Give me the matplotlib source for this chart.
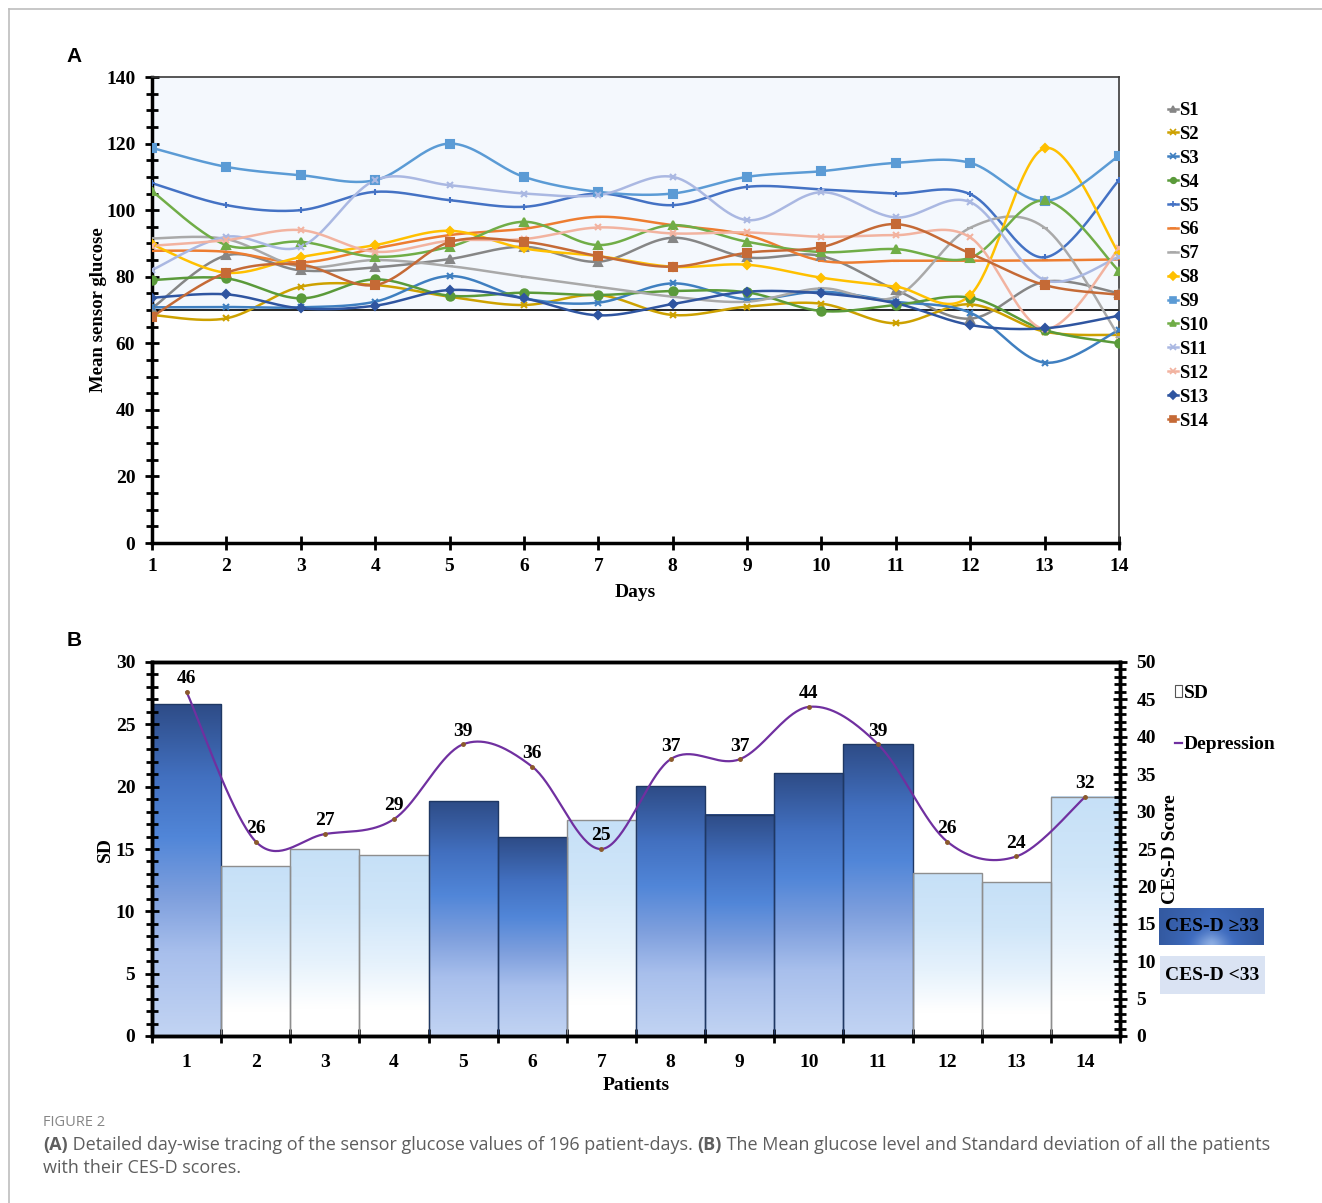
import matplotlib.pyplot as plt
import numpy as np
from matplotlib.colors import LinearSegmentedColormap
from matplotlib.lines import Line2D
from matplotlib.patches import Rectangle

# ---- data: panel A, mean sensor glucose per day ----
days = np.arange(1, 15)
S1 = [70.5, 86.4, 81.9, 82.8, 85.3, 89.0, 84.5, 91.7, 85.8, 86.2, 76.0, 67.4, 78.5, 75.0]
S2 = [68.5, 67.5, 77.0, 77.5, 74.0, 71.5, 74.5, 68.5, 71.0, 71.9, 66.0, 71.7, 63.5, 62.5]
S3 = [70.8, 70.9, 70.8, 72.5, 80.2, 73.5, 72.2, 78.0, 73.2, 75.5, 72.5, 69.2, 54.2, 64.0]
S4 = [79.0, 79.5, 73.5, 79.2, 74.3, 75.2, 74.5, 75.7, 75.3, 69.7, 71.5, 73.7, 64.0, 60.0]
S5 = [108.1, 101.5, 100.0, 105.5, 103.0, 101.0, 105.0, 101.5, 107.0, 106.2, 105.0, 104.8, 85.8, 109.0]
S6 = [87.8, 87.5, 84.3, 88.5, 92.5, 94.4, 98.0, 95.5, 92.5, 84.8, 84.8, 84.8, 84.9, 85.2]
S7 = [91.5, 91.3, 83.0, 85.0, 83.2, 80.0, 77.0, 74.0, 72.5, 76.5, 74.0, 94.7, 94.7, 62.0]
S8 = [89.7, 81.2, 85.9, 89.5, 93.8, 88.5, 86.2, 83.0, 83.6, 79.7, 77.0, 74.5, 118.6, 87.0]
S9 = [118.7, 113.0, 110.5, 109.0, 120.0, 110.0, 105.5, 105.0, 110.0, 111.7, 114.2, 114.2, 102.7, 116.3]
S10 = [105.7, 89.5, 90.5, 86.0, 89.0, 96.5, 89.5, 95.5, 90.5, 87.4, 88.3, 85.7, 102.9, 81.7]
S11 = [82.0, 92.0, 89.0, 109.0, 107.5, 105.0, 104.5, 110.0, 97.0, 105.4, 97.8, 102.4, 79.0, 86.0]
S12 = [89.3, 91.0, 94.0, 87.5, 90.8, 91.3, 94.8, 93.0, 93.3, 92.0, 92.5, 91.8, 64.3, 88.5]
S13 = [73.7, 74.7, 70.5, 71.3, 76.0, 73.5, 68.4, 71.8, 75.5, 75.0, 72.0, 65.5, 64.5, 68.3]
S14 = [68.0, 81.2, 83.6, 77.5, 90.4, 90.5, 86.2, 83.0, 87.2, 88.9, 95.8, 87.0, 77.5, 74.6]
series = [S1, S2, S3, S4, S5, S6, S7, S8, S9, S10, S11, S12, S13, S14]
names = ['S%d' % i for i in range(1, 15)]

# ---- data: panel B ----
patients = np.arange(1, 15)
sd = [26.6, 13.6, 15.0, 14.5, 18.85, 15.96, 17.3, 20.05, 17.75, 21.07, 23.4, 13.05, 12.35, 19.2]
depression = [46, 26, 27, 29, 39, 36, 25, 37, 37, 44, 39, 26, 24, 32]

colors = ['#868686', '#CDA100', '#3F7FC0', '#5A9A3A', '#4472C4', '#ED7D31', '#A9A9A9',
          '#FFC000', '#5B9BD5', '#70AD47', '#AAB8E2', '#F2B3A0', '#2F55A0', '#C56A36']
markers = ['^', 'x', 'x', 'o', '+', '_', '_', 'D', 's', '^', 'x', 'x', 'D', 's']

serif = ['Liberation Serif', 'DejaVu Serif']
plt.rcParams['font.family'] = serif
plt.rcParams['font.weight'] = 'bold'
plt.rcParams['axes.labelweight'] = 'bold'


def smooth(x, y, n=40):
    # Excel-style smoothed line (Bezier through the points)
    pts = np.column_stack([x, y]).astype(float)
    P = np.vstack([pts[0], pts, pts[-1]])
    out = []
    t = np.linspace(0, 1, n)[:, None]
    for i in range(len(pts) - 1):
        p0, p1, p2, p3 = P[i], P[i + 1], P[i + 2], P[i + 3]
        c1 = p1 + (p2 - p0) / 6
        c2 = p2 - (p3 - p1) / 6
        seg = (1 - t) ** 3 * p1 + 3 * (1 - t) ** 2 * t * c1 + 3 * (1 - t) * t ** 2 * c2 + t ** 3 * p2
        out.append(seg if i == 0 else seg[1:])
    out = np.vstack(out)
    return out[:, 0], out[:, 1]


fig = plt.figure(figsize=(13.22, 12.03), dpi=100)

# ---------------- panel A ----------------
ax = fig.add_axes([152 / 1322, 1 - 543 / 1203, 967 / 1322, 466 / 1203])
ax.axhspan(70, 140, color='#F4F8FD', zorder=0)
ax.axhline(70, color='black', lw=1.2, zorder=1)

handles = []
for vals, name, c, m in zip(series, names, colors, markers):
    xs, ys = smooth(days, vals)
    ax.plot(xs, ys, color=c, lw=1.8, zorder=2)
    ms = 6 if m in ('s', '^', 'o') else 5
    if m == 'D':
        ms = 4.5
    ax.plot(days, vals, ls='none', marker=m, color=c, ms=ms, mew=1.5, zorder=3)
    handles.append(Line2D([], [], color=c, lw=1.8, marker=m, ms=4, mew=1.2))

ax.set_xlim(1, 14)
ax.set_ylim(0, 140)
ax.set_xticks(days)
ax.set_yticks(np.arange(0, 141, 20))
ax.set_yticks(np.arange(0, 141, 5), minor=True)
ax.tick_params(axis='both', which='both', direction='inout', width=2, labelsize=14, colors='black')
ax.tick_params(axis='y', which='major', length=10, pad=7)
ax.tick_params(axis='y', which='minor', length=9)
ax.tick_params(axis='x', which='major', length=10, pad=6)
for s in ('left', 'bottom'):
    ax.spines[s].set_linewidth(2.5)
for s in ('top', 'right'):
    ax.spines[s].set_linewidth(1.2)
    ax.spines[s].set_color('#3a3a3a')
ax.set_xlabel('Days', fontsize=14, labelpad=6)
ax.set_ylabel('Mean sensor glucose', fontsize=13.5, labelpad=-1)

ax.legend(handles, names, loc='upper left', bbox_to_anchor=(1168 / 1322, 1 - 102 / 1203),
          bbox_transform=fig.transFigure, frameon=False, fontsize=13.5,
          handlelength=0.55, handletextpad=0.05, labelspacing=0.36, borderpad=0, borderaxespad=0)

fig.text(74 / 1322, 1 - 57 / 1203, 'A', family='Liberation Sans', weight='bold', fontsize=15,
         ha='center', va='center')

# ---------------- panel B ----------------
bx = fig.add_axes([152 / 1322, 1 - 1036 / 1203, 968 / 1322, 374 / 1203])
dark_cmap = LinearSegmentedColormap.from_list('dark', [
    (0.0, '#C2D4F3'), (0.25, '#A8BFEC'), (0.42, '#7E9FDD'), (0.6, '#5186D8'),
    (0.78, '#4270C0'), (1.0, '#2E4C87')])
light_cmap = LinearSegmentedColormap.from_list('light', [
    (0.0, '#FFFFFF'), (0.15, '#FFFFFF'), (0.4, '#E6F2FC'), (0.7, '#D0E6F9'), (1.0, '#C6E0F7')])
grad = np.linspace(0, 1, 256)[:, None]

for p, h, d in zip(patients, sd, depression):
    high = d >= 33
    cm = dark_cmap if high else light_cmap
    bx.imshow(grad, cmap=cm, origin='lower', aspect='auto', extent=(p - 0.5, p + 0.5, 0, h),
              zorder=1, interpolation='bicubic')
    bx.add_patch(Rectangle((p - 0.5, 0), 1, h, fill=False, lw=1.0,
                           edgecolor='#1F3864' if high else '#8E8E8E', zorder=2))

bx.set_xlim(0.5, 14.5)
bx.set_ylim(0, 30)
bx.set_xticks(np.arange(0.5, 15, 1))
bx.set_xticklabels([])
bx.set_xticks(patients, [str(p) for p in patients], minor=True)
bx.tick_params(axis='x', which='major', direction='inout', length=10, width=2)
bx.tick_params(axis='x', which='minor', length=0, pad=13, labelsize=14)
bx.set_yticks(np.arange(0, 31, 5))
bx.set_yticks(np.arange(0, 31, 1), minor=True)
bx.tick_params(axis='y', which='both', direction='inout', width=2, labelsize=14)
bx.tick_params(axis='y', which='major', length=10, pad=7)
bx.tick_params(axis='y', which='minor', length=8)
for s in bx.spines.values():
    s.set_linewidth(2.5)
bx.set_xlabel('Patients', fontsize=14, labelpad=4)
bx.set_ylabel('SD', fontsize=14, labelpad=1)

b2 = bx.twinx()
b2.set_ylim(0, 50)
xs, ys = smooth(patients, depression)
b2.plot(xs, ys, color='#7030A0', lw=1.6, zorder=4)
b2.plot(patients, depression, ls='none', marker='o', ms=2.5, color='#8B5A2B', zorder=5)
for p, d in zip(patients, depression):
    b2.annotate(str(d), (p, d), xytext=(0, 9.5), textcoords='offset points', ha='center',
                va='center', fontsize=14, weight='bold')
b2.set_yticks(np.arange(0, 51, 5))
b2.set_yticks(np.arange(0, 51, 1), minor=True)
b2.tick_params(axis='y', which='both', direction='inout', width=2, labelsize=14)
b2.tick_params(axis='y', which='major', length=10, pad=7)
b2.tick_params(axis='y', which='minor', length=8)
for s in b2.spines.values():
    s.set_linewidth(2.5)
b2.set_ylabel('CES-D Score', fontsize=14, labelpad=4)

leg_h = [Rectangle((0, 0), 1, 1, facecolor='white', edgecolor='#555555', lw=0.8),
         Line2D([], [], color='#7030A0', lw=1.6)]
b2.legend(leg_h, ['SD', 'Depression'], loc='upper left', bbox_to_anchor=(1175 / 1322, 1 - 685 / 1203),
          bbox_transform=fig.transFigure, frameon=False, fontsize=14, handlelength=0.35,
          handleheight=0.55, handletextpad=0.1, labelspacing=1.75, borderpad=0, borderaxespad=0)

fig.text(74 / 1322, 1 - 641 / 1203, 'B', family='Liberation Sans', weight='bold', fontsize=15,
         ha='center', va='center')

# CES-D key boxes
k1 = fig.add_axes([1159 / 1322, 1 - 945 / 1203, 105 / 1322, 37 / 1203])
gx, gy = np.meshgrid(np.linspace(-1, 1, 120), np.linspace(0, 1, 40))
glow = np.exp(-((gx / 0.3) ** 2 + (gy / 0.3) ** 2))
base = 0.3 + 0.3 * (1 - np.abs(gx)) * (1 - 0.5 * gy)
k1.imshow(np.clip(base + 0.3 * glow, 0, 1), cmap=LinearSegmentedColormap.from_list(
    'k', ['#223E74', '#3F6CBF', '#9FBDEB']), origin='lower', aspect='auto', vmin=0, vmax=1,
    extent=(0, 1, 0, 1))
k1.text(0.5, 0.5, 'CES-D \u226533', ha='center', va='center', fontsize=14, weight='bold',
        family=serif + ['DejaVu Sans'], transform=k1.transAxes)
k1.set_axis_off()

k2 = fig.add_axes([1160 / 1322, 1 - 994 / 1203, 105 / 1322, 38 / 1203])
k2.add_patch(Rectangle((0, 0), 1, 1, color='#DAE3F3', transform=k2.transAxes))
k2.text(0.5, 0.5, 'CES-D <33', ha='center', va='center', fontsize=14, weight='bold',
        transform=k2.transAxes)
k2.set_axis_off()

# ---------------- caption and frame ----------------
cap = fig.add_axes([0, 0, 1, 1], zorder=-1)
cap.set_axis_off()
cap.set_xlim(0, 1322)
cap.set_ylim(1203, 0)
cap.plot([9, 1322], [9, 9], color='#BDBDBD', lw=1.2)
cap.plot([9, 9], [9, 1203], color='#BDBDBD', lw=1.2)

sans = 'Open Sans'
fs = 12.95
col = '#5E5E5E'
cap.text(43, 1122, 'FIGURE 2', family=sans, fontsize=10.5, weight='normal', color='#858585',
         va='center', ha='left')
t1 = cap.text(43, 1145, '(A)', family=sans, fontsize=fs, weight='bold', color=col,
              va='center', ha='left')
t2 = cap.annotate(' Detailed day-wise tracing of the sensor glucose values of 196 patient-days. ',
                  xy=(1, 0.5), xycoords=t1, va='center', ha='left', family=sans, fontsize=fs,
                  weight='normal', color=col)
t3 = cap.annotate('(B)', xy=(1, 0.5), xycoords=t2, va='center', ha='left', family=sans,
                  fontsize=fs, weight='bold', color=col)
cap.annotate(' The Mean glucose level and Standard deviation of all the patients', xy=(1, 0.5),
             xycoords=t3, va='center', ha='left', family=sans, fontsize=fs, weight='normal',
             color=col)
cap.text(43, 1168, 'with their CES-D scores.', family=sans, fontsize=fs, weight='normal',
         color=col, va='center', ha='left')

fig.savefig('out.png', dpi=100)
